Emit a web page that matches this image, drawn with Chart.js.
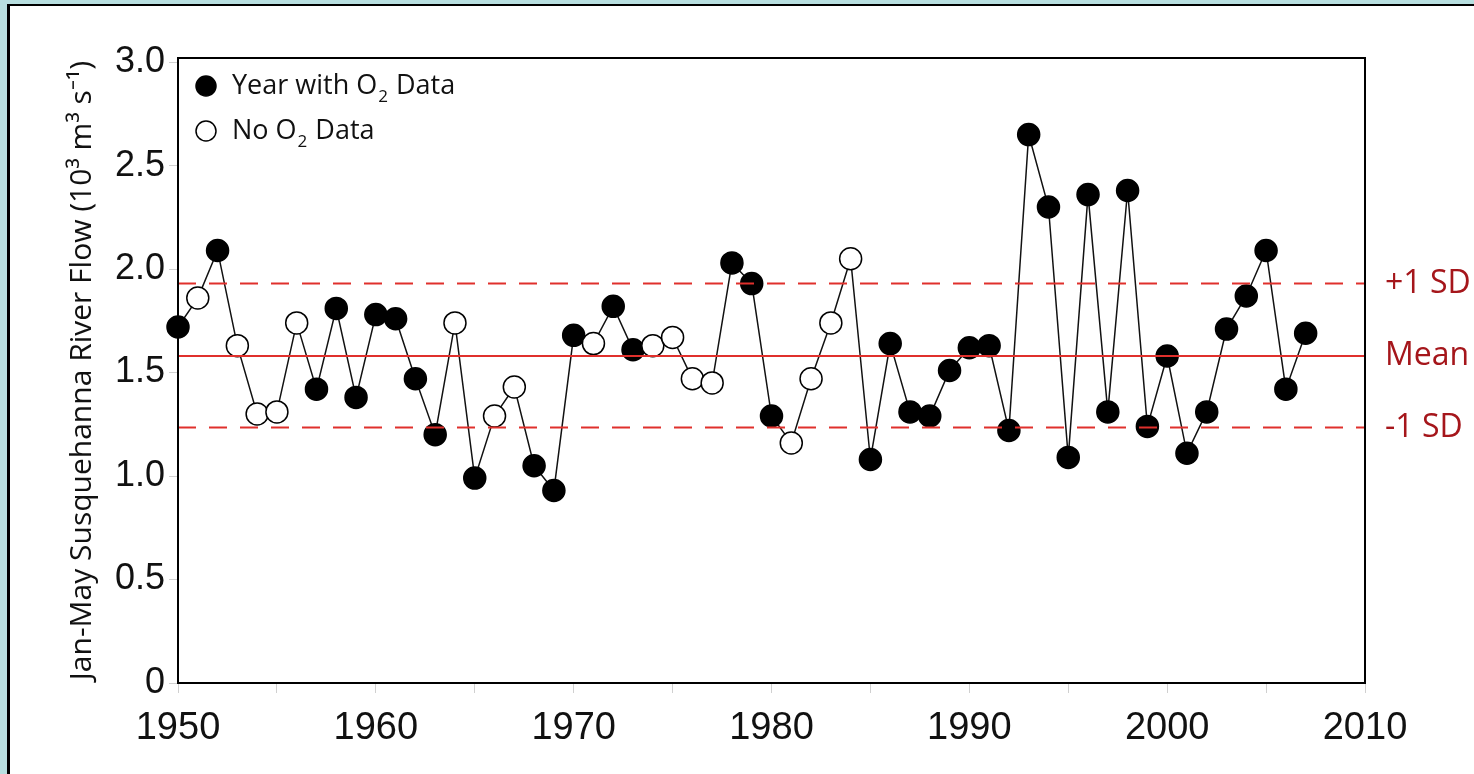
<!DOCTYPE html>
<html>
<head>
<meta charset="utf-8">
<script src="https://cdn.jsdelivr.net/npm/chart.js@4"></script>
<style>
  html, body { margin: 0; padding: 0; background: #b8dfe0; }
  .card {
    position: absolute; left: 7px; top: 4px; right: -10px; bottom: -10px;
    background: #fff; border-left: 3px solid #000; border-top: 2px solid #000;
  }
  .wrap { position: absolute; left: 0; top: 0; width: 1474px; height: 774px; }
</style>
</head>
<body>
<div class="card"></div>
<div class="wrap"><canvas id="myChart" width="1474" height="774"></canvas></div>
<script>
const years = [];
for (let y = 1950; y <= 2007; y++) years.push(y);

const flow = [
  1.72, 1.86, 2.09, 1.63, 1.30, 1.31, 1.74, 1.42, 1.81, 1.38,
  1.78, 1.76, 1.47, 1.20, 1.74, 0.99, 1.29, 1.43, 1.05, 0.93,
  1.68, 1.64, 1.82, 1.61, 1.63, 1.67, 1.47, 1.45, 2.03, 1.93,
  1.29, 1.16, 1.47, 1.74, 2.05, 1.08, 1.64, 1.31, 1.29, 1.51,
  1.62, 1.63, 1.22, 2.65, 2.30, 1.09, 2.36, 1.31, 2.38, 1.24,
  1.58, 1.11, 1.31, 1.71, 1.87, 2.09, 1.42, 1.69
];

// 1 = year with O2 data, 0 = no O2 data
const hasO2 = [
  1, 0, 1, 0, 0, 0, 0, 1, 1, 1,
  1, 1, 1, 1, 0, 1, 0, 0, 1, 1,
  1, 0, 1, 1, 0, 0, 0, 0, 1, 1,
  1, 0, 0, 0, 0, 1, 1, 1, 1, 1,
  1, 1, 1, 1, 1, 1, 1, 1, 1, 1,
  1, 1, 1, 1, 1, 1, 1, 1
];

const meanFlow = 1.58;
const plusSD = 1.93;
const minusSD = 1.235;
const refLabels = ["+1 SD", "Mean", "-1 SD"];
const refValues = [plusSD, meanFlow, minusSD];
const yTicks = [0, 0.5, 1.0, 1.5, 2.0, 2.5, 3.0];

const points = years.map((y, i) => ({ x: y, y: flow[i] }));

function refLine(v, dashed) {
  return {
    type: "line",
    data: [{ x: 1950, y: v }, { x: 2010, y: v }],
    borderColor: "#e0302c",
    borderWidth: 2,
    borderDash: dashed ? [18, 13] : [],
    pointRadius: 0,
    order: 0,
  };
}

const overlay = {
  id: "overlay",
  afterDraw(chart) {
    const ctx = chart.ctx;
    const a = chart.chartArea;
    const ys = chart.scales.y;
    ctx.save();
    // plot frame
    ctx.strokeStyle = "#000";
    ctx.lineWidth = 2;
    ctx.strokeRect(a.left, a.top, a.right - a.left, a.bottom - a.top);

    // reference labels
    ctx.fillStyle = "#a5161b";
    ctx.font = "32px 'Open Sans'";
    ctx.textBaseline = "middle";
    ctx.textAlign = "left";
    refLabels.forEach((t, i) => {
      ctx.fillText(t, a.right + 20, ys.getPixelForValue(refValues[i]));
    });

    // legend
    const lx = a.left + 28;
    const rows = [
      { y: a.top + 28, fill: true, pre: "Year with O", post: " Data" },
      { y: a.top + 73, fill: false, pre: "No O", post: " Data" },
    ];
    rows.forEach(r => {
      ctx.beginPath();
      ctx.arc(lx, r.y, 10, 0, Math.PI * 2);
      ctx.fillStyle = r.fill ? "#000" : "#fff";
      ctx.fill();
      ctx.lineWidth = 1.5;
      ctx.strokeStyle = "#000";
      ctx.stroke();
      ctx.fillStyle = "#111";
      ctx.font = "27px 'Open Sans'";
      let x = lx + 26;
      ctx.fillText(r.pre, x, r.y);
      x += ctx.measureText(r.pre).width;
      ctx.font = "17px 'Open Sans'";
      ctx.fillText("2", x + 1, r.y + 11);
      x += ctx.measureText("2").width + 2;
      ctx.font = "27px 'Open Sans'";
      ctx.fillText(r.post, x, r.y);
    });
    ctx.restore();
  },
};

new Chart(document.getElementById("myChart"), {
  type: "line",
  data: {
    datasets: [
      {
        label: "Flow",
        data: points,
        borderColor: "#111",
        borderWidth: 1.5,
        pointRadius: 11,
        pointHoverRadius: 11,
        pointBorderWidth: 1.5,
        pointBorderColor: "#000",
        pointBackgroundColor: ctx => (hasO2[ctx.dataIndex] ? "#000" : "#fff"),
        tension: 0,
        clip: false,
        order: 1,
      },
      refLine(plusSD, true),
      refLine(meanFlow, false),
      refLine(minusSD, true),
    ],
  },
  options: {
    responsive: false,
    animation: false,
    layout: { padding: { left: 0, right: 109, top: 58, bottom: 0 } },
    plugins: { legend: { display: false }, tooltip: { enabled: false } },
    scales: {
      x: {
        type: "linear",
        min: 1950,
        max: 2010,
        afterFit: s => { s.height = 91; },
        ticks: {
          stepSize: 5,
          color: "#111",
          font: { family: "'Liberation Sans', Arial", size: 38 },
          padding: 13,
          maxRotation: 0,
          autoSkip: false,
          callback: v => (v % 10 === 0 ? String(v) : ""),
        },
        grid: { drawOnChartArea: false, color: "#d0d0d0", tickLength: 10 },
        border: { display: false },
      },
      y: {
        min: 0,
        max: 3.02,
        afterFit: s => { s.width = 178; },
        afterBuildTicks: s => { s.ticks = yTicks.map(v => ({ value: v })); },
        ticks: {
          color: "#111",
          font: { family: "'Liberation Sans', Arial", size: 36 },
          padding: 4,
          callback: v => (v === 0 ? "0" : v.toFixed(1)),
        },
        grid: { drawOnChartArea: false, color: "#d0d0d0", tickLength: 9 },
        border: { display: false },
        title: {
          display: true,
          text: "Jan-May Susquehanna River Flow (10\u00b3 m\u00b3 s\u207b\u00b9)",
          color: "#111",
          font: { family: "'Open Sans'", size: 30 },
          padding: { top: 64, bottom: 0 },
        },
      },
    },
  },
  plugins: [overlay],
});
</script>
</body>
</html>
